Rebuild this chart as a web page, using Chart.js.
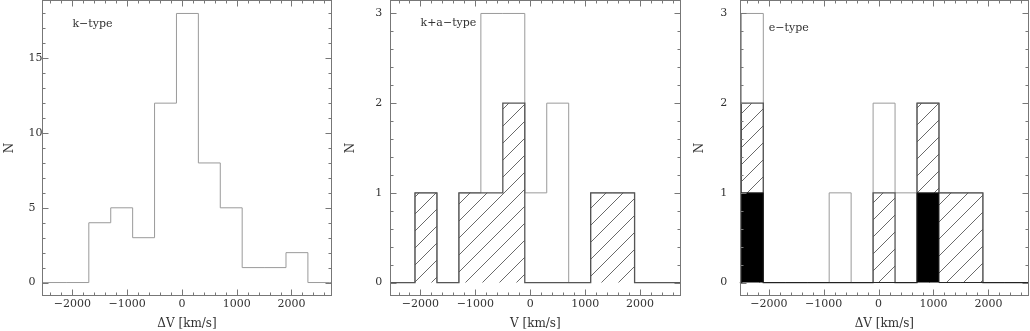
<!DOCTYPE html>
<html>
<head>
<meta charset="utf-8">
<script src="https://cdn.jsdelivr.net/npm/chart.js@4.4.1/dist/chart.umd.min.js"></script>
<style>
  html, body { margin: 0; padding: 0; background: #fff; }
  .panel { position: absolute; top: 0; height: 331px; }
</style>
</head>
<body>
<div class="panel" style="left:0;width:340px"><canvas id="c1"></canvas></div>
<div class="panel" style="left:340px;width:345px"><canvas id="c2"></canvas></div>
<div class="panel" style="left:685px;width:345px"><canvas id="c3"></canvas></div>
<script>
// velocity bins, 400 km/s wide (left edges + last right edge)
const binEdges = [-2500, -2100, -1700, -1300, -900, -500, -100, 300, 700, 1100, 1500, 1900, 2300, 2700];

// k-type
const kType = [0, 0, 4, 5, 3, 12, 18, 8, 5, 1, 1, 2, 0];

// k+a-type: all, and hatched subsample
const kaAll = [0, 1, 0, 1, 3, 3, 1, 2, 0, 1, 1, 0, 0];
const kaHatched = [0, 1, 0, 1, 1, 2, 0, 0, 0, 1, 1, 0, 0];

// e-type: all, hatched and black subsamples
const eAll = [3, 0, 0, 0, 1, 0, 2, 1, 2, 1, 1, 0, 0];
const eHatched = [2, 0, 0, 0, 0, 0, 1, 0, 2, 1, 1, 0, 0];
const eBlack = [1, 0, 0, 0, 0, 0, 0, 0, 1, 0, 0, 0, 0];

// tick labels
const xTicks = [-2000, -1000, 0, 1000, 2000];
const yTicksK = [0, 5, 10, 15];
const yTicksN = [0, 1, 2, 3];

const FONT = '"DejaVu Serif", "Liberation Serif", serif';
const TXT = '#333';
const X_MAX = 2740;

// step outline from bin counts (each count held from its left edge), zero out to the axis ends
function steps(counts, lo, hi) {
    const pts = [{ x: lo, y: 0 }];
    counts.forEach((c, i) => pts.push({ x: binEdges[i], y: c }));
    pts.push({ x: binEdges[binEdges.length - 1], y: 0 });
    pts.push({ x: hi, y: 0 });
    return pts;
}

function hatch(ctx) {
    const s = 17;
    const c = document.createElement("canvas");
    c.width = s;
    c.height = s;
    const g = c.getContext("2d");
    g.strokeStyle = "#444";
    g.lineWidth = 0.8;
    g.beginPath();
    g.moveTo(0, s); g.lineTo(s, 0);
    g.moveTo(-1, 1); g.lineTo(1, -1);
    g.moveTo(s - 1, s + 1); g.lineTo(s + 1, s - 1);
    g.stroke();
    return ctx.createPattern(c, "repeat");
}

// frame with inward ticks on all four sides, plus the panel label
const boxTicks = {
    id: "boxTicks",
    afterDatasetsDraw(chart, args, o) {
        const { ctx, chartArea: a, scales: { x, y } } = chart;
        const L = Math.round(a.left) + 0.5, R = Math.round(a.right) - 0.5;
        const T = Math.round(a.top) + 0.5, B = Math.round(a.bottom) - 0.5;
        ctx.save();
        ctx.strokeStyle = "#777";
        ctx.lineWidth = 1;
        ctx.strokeRect(L, T, R - L, B - T);
        ctx.beginPath();
        for (let i = Math.ceil(x.min / o.xMinor); i * o.xMinor <= x.max; i++) {
            const v = i * o.xMinor;
            const len = v % o.xMajor === 0 ? 6 : 3;
            const px = Math.round(x.getPixelForValue(v)) + 0.5;
            ctx.moveTo(px, B); ctx.lineTo(px, B - len);
            ctx.moveTo(px, T); ctx.lineTo(px, T + len);
        }
        for (let i = Math.ceil(y.min / o.yMinor); i * o.yMinor <= y.max; i++) {
            const v = i * o.yMinor;
            const r = v / o.yMajor;
            const len = Math.abs(r - Math.round(r)) < 1e-6 ? 6 : 3;
            const py = Math.round(y.getPixelForValue(v)) + 0.5;
            ctx.moveTo(L, py); ctx.lineTo(L + len, py);
            ctx.moveTo(R, py); ctx.lineTo(R - len, py);
        }
        ctx.stroke();
        ctx.font = "11px " + FONT;
        ctx.fillStyle = TXT;
        ctx.textBaseline = "middle";
        ctx.fillText(o.label, x.getPixelForValue(o.labelAt[0]), y.getPixelForValue(o.labelAt[1]));
        ctx.restore();
    }
};

function fmt(v) {
    return (v < 0 ? "\u2212" : "") + Math.abs(v);
}

function makePanel(id, p) {
    new Chart(document.getElementById(id), {
        type: "line",
        data: { datasets: p.datasets },
        options: {
            responsive: true,
            maintainAspectRatio: false,
            animation: false,
            elements: { point: { radius: 0 }, line: { tension: 0 } },
            layout: { padding: { left: p.padLeft, right: p.padRight, top: 0, bottom: 0 } },
            plugins: {
                legend: { display: false },
                tooltip: { enabled: false },
                boxTicks: p.box
            },
            scales: {
                x: {
                    type: "linear",
                    min: p.xMin,
                    max: X_MAX,
                    grid: { display: false, drawTicks: false },
                    border: { display: false },
                    afterBuildTicks: (s) => { s.ticks = xTicks.map((v) => ({ value: v })); },
                    ticks: { padding: 2, maxRotation: 0, autoSkip: false, color: TXT, font: { family: FONT, size: 11 }, callback: fmt },
                    title: { display: true, text: p.xTitle, color: TXT, padding: 0, font: { family: FONT, size: 12 } },
                    afterFit: (s) => { s.height = 35; s.paddingLeft = 0; s.paddingRight = 0; }
                },
                y: {
                    type: "linear",
                    min: p.yMin,
                    max: p.yMax,
                    grid: { display: false, drawTicks: false },
                    border: { display: false },
                    afterBuildTicks: (s) => { s.ticks = p.yTicks.map((v) => ({ value: v })); },
                    ticks: { crossAlign: "far", color: TXT, font: { family: FONT, size: 11 } },
                    title: { display: true, text: "N", color: TXT, padding: { top: p.titleShift, bottom: 0 }, font: { family: FONT, size: 12 } },
                    afterFit: (s) => { s.width = p.yWidth; s.paddingTop = 0; s.paddingBottom = 0; }
                }
            }
        },
        plugins: [boxTicks]
    });
}

const openLine = (data) => ({ data, stepped: true, borderColor: "#9a9a9a", borderWidth: 1, fill: false });

// k-type
makePanel("c1", {
    xMin: -2555, yMin: -0.9, yMax: 18.9, yTicks: yTicksK,
    padLeft: 28.5, padRight: 8, yWidth: 13.5, titleShift: -25.7, xTitle: "\u0394V [km/s]",
    box: { xMinor: 200, xMajor: 1000, yMinor: 1, yMajor: 5, label: "k\u2212type", labelAt: [-2000, 17.3] },
    datasets: [openLine(steps(kType, -2555, X_MAX))]
});

// k+a-type
const ctx2 = document.getElementById("c2").getContext("2d");
makePanel("c2", {
    xMin: -2555, yMin: -0.15, yMax: 3.15, yTicks: yTicksN,
    padLeft: 35.3, padRight: 4.3, yWidth: 14.7, titleShift: -31.5, xTitle: "V [km/s]",
    box: { xMinor: 200, xMajor: 1000, yMinor: 0.2, yMajor: 1, label: "k+a\u2212type", labelAt: [-2000, 2.89] },
    datasets: [
        { data: steps(kaHatched, -2555, X_MAX), stepped: true, borderColor: "#555", borderWidth: 1.3, backgroundColor: hatch(ctx2), fill: "origin" },
        openLine(steps(kaAll, -2555, X_MAX))
    ]
});

// e-type
const ctx3 = document.getElementById("c3").getContext("2d");
makePanel("c3", {
    xMin: -2530, yMin: -0.15, yMax: 3.15, yTicks: yTicksN,
    padLeft: 35.3, padRight: 1, yWidth: 19.4, titleShift: -27.5, xTitle: "\u0394V [km/s]",
    box: { xMinor: 200, xMajor: 1000, yMinor: 0.2, yMajor: 1, label: "e\u2212type", labelAt: [-2000, 2.84] },
    datasets: [
        { data: steps(eBlack, -2530, X_MAX), stepped: true, borderColor: "#222", borderWidth: 1, backgroundColor: "#000", fill: "origin" },
        { data: steps(eHatched, -2530, X_MAX), stepped: true, borderColor: "#555", borderWidth: 1.3, backgroundColor: hatch(ctx3), fill: "origin" },
        openLine(steps(eAll, -2530, X_MAX))
    ]
});
</script>
</body>
</html>
